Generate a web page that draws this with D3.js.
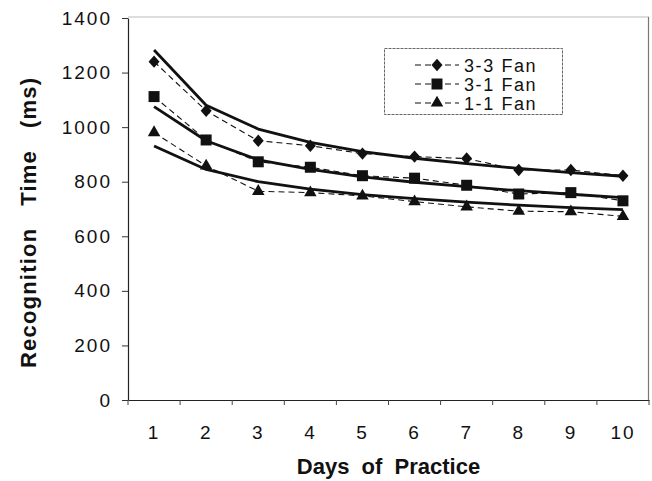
<!DOCTYPE html>
<html><head><meta charset="utf-8">
<script src="https://cdn.jsdelivr.net/npm/d3@7"></script>
<style>
html,body{margin:0;padding:0;background:#fff;}
svg{display:block;font-family:"Liberation Sans",Arial,Helvetica,sans-serif;}
</style></head>
<body>
<svg id="chart" width="652" height="481"></svg>
<script>
const days = [1,2,3,4,5,6,7,8,9,10];
const seriesNames = ["3-3 Fan","3-1 Fan","1-1 Fan"];
const obs33 = [1240,1060,950,932,903,892,885,843,843,822];
const obs31 = [1112,953,873,853,822,813,787,755,760,730];
const obs11 = [980,858,765,760,748,727,708,692,690,673];
const fit33 = [1283,1080,993,944,910,886,866,849,833,820];
const fit31 = [1075,950,880,845,818,798,782,767,754,742];
const fit11 = [931,845,800,773,753,738,725,714,705,698];
const yTicks = [0,200,400,600,800,1000,1200,1400];
const xTitle = "Days  of  Practice";
const yTitle = "Recognition\u00a0\u00a0\u00a0Time\u00a0\u00a0\u00a0(ms)";

const svg = d3.select("#chart");
const L = 128, R = 649, T = 18, B = 400;

const x = d3.scaleBand().domain(days).range([L, R]);
const y = d3.scaleLinear().domain([0, 1400]).range([B, T]);
const cx = d => x(d) + x.bandwidth()/2;

// frame (light top/right)
svg.append("line").attr("x1", L).attr("x2", R).attr("y1", T-1).attr("y2", T-1)
  .attr("stroke", "#bbb").attr("stroke-width", 1);
svg.append("line").attr("x1", R-0.5).attr("x2", R-0.5).attr("y1", T-1).attr("y2", B)
  .attr("stroke", "#777").attr("stroke-width", 1.2);

// y axis
const yAxis = svg.append("g").attr("transform", `translate(${L},0)`)
  .call(d3.axisLeft(y).tickValues(yTicks).tickFormat(d3.format("d")).tickSize(6).tickSizeOuter(0).tickPadding(10));
yAxis.select(".domain").attr("stroke", "#222").attr("stroke-width", 1.2);
yAxis.selectAll(".tick line").attr("stroke", "#333");
yAxis.selectAll(".tick text").attr("font-size", 19).attr("fill", "#111")
  .attr("letter-spacing", "2px").attr("font-family", "Liberation Sans, Arial, sans-serif");

// x axis
const xAxis = svg.append("g").attr("transform", `translate(0,${B})`)
  .call(d3.axisBottom(x).tickSize(0).tickPadding(0));
xAxis.select(".domain").attr("stroke", "#222").attr("stroke-width", 1.2);
xAxis.selectAll(".tick text").attr("font-size", 19).attr("fill", "#111")
  .attr("letter-spacing", "1.8px").attr("dy", 0).attr("y", 39)
  .attr("font-family", "Liberation Sans, Arial, sans-serif");
// boundary ticks
const bounds = days.map(d => x(d)).concat([R]);
svg.append("g").selectAll("line").data(bounds).join("line")
  .attr("x1", d => d).attr("x2", d => d).attr("y1", B).attr("y2", B + 5)
  .attr("stroke", "#444").attr("stroke-width", 1);

// titles
svg.append("text").attr("x", (L+R)/2).attr("y", 474).attr("text-anchor", "middle")
  .attr("font-size", 22).attr("font-weight", "bold").attr("fill", "#111")
  .style("white-space", "pre").text(xTitle);
svg.append("text").attr("transform", `translate(36,368) rotate(-90)`)
  .attr("text-anchor", "start").attr("font-size", 22).attr("font-weight", "bold")
  .attr("letter-spacing", "1.2px").attr("fill", "#111").text(yTitle);

// series
const diamond = { draw(ctx, size) { const w = 5.5, h = 6.2; ctx.moveTo(0,-h); ctx.lineTo(w,0); ctx.lineTo(0,h); ctx.lineTo(-w,0); ctx.closePath(); } };
const symbols = [d3.symbol().type(diamond)(), d3.symbol().type(d3.symbolSquare).size(121)(), d3.symbol().type(d3.symbolTriangle).size(68)()];
const obs = [obs33, obs31, obs11];
const fits = [fit33, fit31, fit11];

const line = d3.line().x((v,i) => cx(days[i])).y(v => y(v));

const g = svg.append("g");
fits.forEach(f => {
  g.append("path").attr("d", line(f)).attr("fill", "none")
    .attr("stroke", "#111").attr("stroke-width", 2.8).attr("stroke-linejoin", "round");
});
obs.forEach((o, k) => {
  g.append("path").attr("d", line(o)).attr("fill", "none")
    .attr("stroke", "#111").attr("stroke-width", 1.1).attr("stroke-dasharray", "6,4");
  g.append("g").selectAll("path").data(o).join("path")
    .attr("d", symbols[k])
    .attr("transform", (v,i) => `translate(${cx(days[i])},${y(v)})`)
    .attr("fill", "#111");
});

// legend
const lg = svg.append("g");
lg.append("rect").attr("x", 384.5).attr("y", 48.5).attr("width", 178).attr("height", 66)
  .attr("fill", "#fff").attr("stroke", "#666").attr("stroke-width", 1).attr("stroke-dasharray", "3,1");
const rows = [65, 84, 103];
seriesNames.forEach((n, k) => {
  lg.append("line").attr("x1", 415).attr("x2", 459).attr("y1", rows[k]).attr("y2", rows[k])
    .attr("stroke", "#111").attr("stroke-width", 1.1).attr("stroke-dasharray", "6,4");
  lg.append("path").attr("d", symbols[k]).attr("transform", `translate(437,${rows[k]})`).attr("fill", "#111");
  lg.append("text").attr("x", 464).attr("y", rows[k] + 7).attr("font-size", 18)
    .attr("letter-spacing", "1.6px").attr("fill", "#111").text(n);
});
</script>
</body></html>
